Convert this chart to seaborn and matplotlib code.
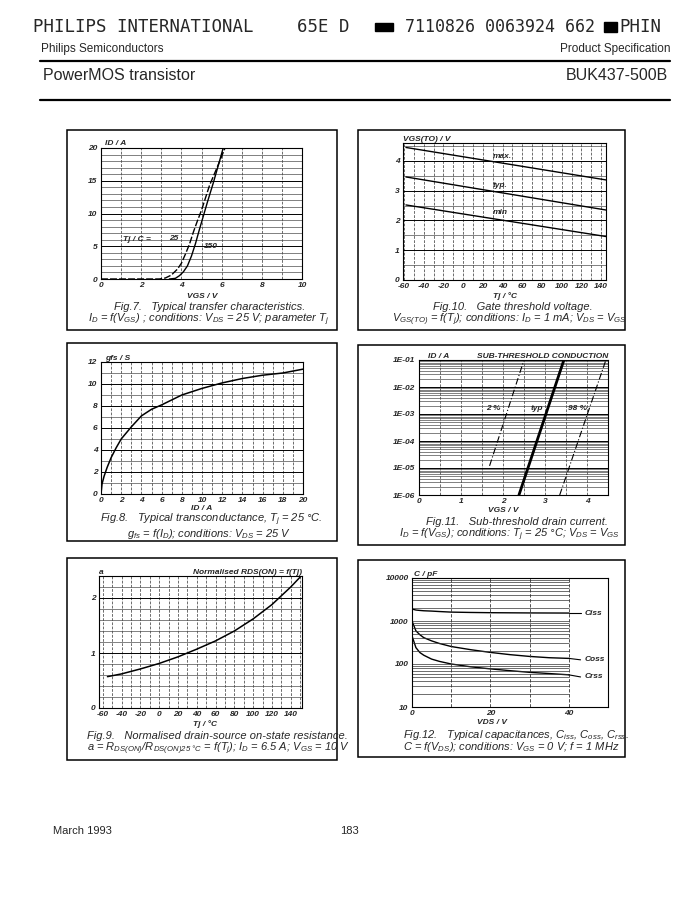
import matplotlib
matplotlib.use("Agg")
import matplotlib.pyplot as plt
from matplotlib.patches import Rectangle
from matplotlib.ticker import MultipleLocator, LogLocator, NullFormatter
import numpy as np
import pandas as pd
import seaborn as sns

# ---- data ----
# Fig.7 transfer characteristics
vgs_25 = [0.0, 2.9, 3.2, 3.5, 3.8, 4.0, 4.2, 4.4, 4.6, 4.8, 5.0, 5.4, 5.8, 6.17]
id_25 = [0.0, 0.0, 0.15, 0.6, 1.5, 2.4, 3.8, 5.3, 7.2, 8.9, 10.5, 14.3, 17.2, 20.0]
vgs_150 = [3.4, 3.7, 3.9, 4.1, 4.3, 4.5, 4.7, 4.9, 5.1, 5.3, 5.58, 5.85, 6.08]
id_150 = [0.0, 0.1, 0.5, 1.1, 2.0, 3.5, 5.4, 7.6, 9.7, 11.8, 14.6, 17.5, 20.0]

# Fig.10 gate threshold voltage
tj_thr = [-58, 145]
vth_max = [4.45, 3.36]
vth_typ = [3.46, 2.35]
vth_min = [2.52, 1.46]

# Fig.8 transconductance
id_gfs = [0, 0.1, 0.3, 0.6, 1, 1.5, 2, 3, 4, 5, 6, 8, 10, 12, 14, 16, 18, 20]
gfs = [0, 0.9, 1.6, 2.4, 3.3, 4.2, 5.0, 6.1, 7.1, 7.7, 8.1, 9.0, 9.6, 10.1, 10.5, 10.8, 11.0, 11.35]

# Fig.11 sub-threshold drain current
vgs_st_typ = [2.38, 3.45]
id_st_typ = [1e-6, 1e-1]
vgs_st_2 = [1.68, 2.5]
id_st_2 = [1.2e-5, 1e-1]
vgs_st_98 = [3.35, 4.45]
id_st_98 = [1e-6, 1e-1]

# Fig.9 normalised on-state resistance
tj_rds = [-55, -40, -20, 0, 20, 40, 60, 80, 100, 120, 140, 150]
a_rds = [0.57, 0.62, 0.71, 0.81, 0.93, 1.07, 1.22, 1.40, 1.62, 1.88, 2.2, 2.38]

# Fig.12 capacitances
vds_c = [0, 1, 2, 3, 5, 7, 10, 15, 20, 25, 30, 35, 40]
c_iss = [1900, 1800, 1760, 1730, 1700, 1660, 1610, 1580, 1560, 1550, 1540, 1535, 1530]
c_oss = [1000, 590, 480, 410, 345, 300, 255, 215, 186, 165, 150, 140, 135]
c_rss = [450, 240, 185, 160, 130, 115, 100, 86, 77, 70, 64, 60, 56]

sns.set_theme(style="white")
plt.rcParams["font.family"] = ["Liberation Sans", "DejaVu Sans"]
plt.rcParams["mathtext.fontset"] = "custom"
plt.rcParams["mathtext.rm"] = "Liberation Sans:italic"
plt.rcParams["mathtext.it"] = "Liberation Sans:italic"
plt.rcParams["mathtext.bf"] = "Liberation Sans:bold:italic"
plt.rcParams["axes.unicode_minus"] = False

W, H = 693, 906
fig = plt.figure(figsize=(W / 100, H / 100), dpi=100)
fig.patch.set_facecolor("white")


def add_ax(l, r, t, b):
    return fig.add_axes([l / W, 1 - b / H, (r - l) / W, (b - t) / H])


def ftext(x, y, s, **kw):
    kw.setdefault("va", "center")
    fig.text(x / W, 1 - y / H, s, **kw)


def box(l, r, t, b):
    fig.add_artist(Rectangle((l / W, 1 - b / H), (r - l) / W, (b - t) / H,
                             transform=fig.transFigure, fill=False,
                             lw=1.1, ec="black"))


def style(ax, xmaj, xmin, ymaj, ymin, logy=False):
    if logy:
        ax.set_yscale("log")
        ax.yaxis.set_minor_locator(LogLocator(base=10, subs=np.arange(2, 10)))
        ax.yaxis.set_minor_formatter(NullFormatter())
    else:
        ax.yaxis.set_major_locator(MultipleLocator(ymaj))
        ax.yaxis.set_minor_locator(MultipleLocator(ymin))
    ax.xaxis.set_major_locator(MultipleLocator(xmaj))
    ax.xaxis.set_minor_locator(MultipleLocator(xmin))
    ax.grid(axis="y", which="major", color="black", lw=0.7)
    ax.grid(axis="y", which="minor", color="0.3", lw=0.5)
    ax.grid(axis="x", which="both", color="0.2", lw=0.5, ls=(0, (4, 2)))
    ax.tick_params(length=0, pad=2.5, labelsize=6)
    for lab in ax.get_xticklabels() + ax.get_yticklabels():
        lab.set_fontweight("bold")
        lab.set_fontstyle("italic")
    for sp in ax.spines.values():
        sp.set_color("black")
        sp.set_linewidth(0.8)
    ax.set_xlabel("")
    ax.set_ylabel("")
    ax.set_facecolor("white")


small = dict(fontsize=6, fontweight="bold", fontstyle="italic")
cap = dict(fontsize=8, fontstyle="italic", ha="center")
mono = dict(fontsize=12.5, family="DejaVu Sans Mono")

# ---- header ----
ftext(33, 27, "PHILIPS INTERNATIONAL", **mono)
ftext(297, 27, "65E D", **mono)
fig.add_artist(Rectangle((375 / W, 1 - 31 / H), 18 / W, 8 / H, transform=fig.transFigure,
                         color="black"))
ftext(405, 27, "7110826 0063924 662", fontsize=12, family="DejaVu Sans Mono")
fig.add_artist(Rectangle((604 / W, 1 - 32 / H), 13 / W, 10 / H, transform=fig.transFigure,
                         color="black"))
ftext(619, 27, "PHIN", **mono)
ftext(41, 49, "Philips Semiconductors", fontsize=8.5)
ftext(670, 49, "Product Specification", fontsize=8.5, ha="right")
fig.add_artist(plt.Line2D([40 / W, 670 / W], [1 - 61 / H] * 2, color="black", lw=1.6))
ftext(43, 75, "PowerMOS transistor", fontsize=11.5)
ftext(668, 75, "BUK437-500B", fontsize=11.5, ha="right")
fig.add_artist(plt.Line2D([40 / W, 670 / W], [1 - 100 / H] * 2, color="black", lw=1.6))

# ---- footer ----
ftext(53, 831, "March 1993", fontsize=8)
ftext(340, 831, "183", fontsize=8)

# ---- Fig.7 ----
box(67, 337, 130, 330)
ax = add_ax(101, 302, 148, 279)
sns.lineplot(x=vgs_25, y=id_25, ax=ax, color="black", lw=1.0, ls=(0, (5, 1.5)))
sns.lineplot(x=vgs_150, y=id_150, ax=ax, color="black", lw=1.0)
ax.set_xlim(0, 10)
ax.set_ylim(0, 20)
style(ax, 2, 1, 5, 1)
ax.text(0.02, 1.01, "ID / A", transform=ax.transAxes, va="bottom", **small)
ax.text(1.1, 6.1, "Tj / C =", va="center", **small)
ax.text(3.4, 6.2, "25", va="center", **small)
ax.text(5.1, 4.9, "150", va="center", **small)
ftext(202, 296, "VGS / V", ha="center", **small)
ftext(210, 307, "Fig.7.   Typical transfer characteristics.", **cap)
ftext(209, 319.5, r"$I_D$ = f($V_{GS}$) ; conditions: $V_{DS}$ = 25 V; parameter $T_j$", **cap)

# ---- Fig.10 ----
box(358, 625, 130, 330)
ax = add_ax(403, 606, 143, 280)
for v, lab, ly in [(vth_max, "max.", 4.15), (vth_typ, "typ.", 3.16), (vth_min, "min", 2.27)]:
    sns.lineplot(x=tj_thr, y=v, ax=ax, color="black", lw=1.0)
    ax.text(30, ly, lab, va="center", **small)
ax.set_xlim(-61, 145)
ax.set_ylim(0, 4.6)
style(ax, 20, 10, 1, 0.5)
ax.text(0.0, 1.0, "VGS(TO) / V", transform=ax.transAxes, va="bottom", **small)
ftext(505, 296, "Tj / °C", ha="center", **small)
ftext(513, 307, "Fig.10.   Gate threshold voltage.", **cap)
ftext(510, 319.5, r"$V_{GS(TO)}$ = f($T_j$); conditions: $I_D$ = 1 mA; $V_{DS}$ = $V_{GS}$", **cap)

# ---- Fig.8 ----
box(67, 337, 343, 541)
ax = add_ax(101, 303, 362, 494)
sns.lineplot(x=id_gfs, y=gfs, ax=ax, color="black", lw=1.1)
ax.set_xlim(0, 20)
ax.set_ylim(0, 12)
style(ax, 2, 1, 2, 1)
ax.text(0.02, 1.0, "gfs / S", transform=ax.transAxes, va="bottom", **small)
ftext(202, 508.5, "ID / A", ha="center", **small)
ftext(211, 520, "Fig.8.   Typical transconductance, $T_j$ = 25 °C.", **cap)
ftext(209, 534, r"$g_{fs}$ = f($I_D$); conditions: $V_{DS}$ = 25 V", **cap)

# ---- Fig.11 ----
box(358, 625, 345, 545)
ax = add_ax(419, 608, 360, 495)
sns.lineplot(x=vgs_st_typ, y=id_st_typ, ax=ax, color="black", lw=2.0)
sns.lineplot(x=vgs_st_2, y=id_st_2, ax=ax, color="black", lw=0.8, ls=(0, (6, 2, 1, 2)))
sns.lineplot(x=vgs_st_98, y=id_st_98, ax=ax, color="black", lw=0.8, ls=(0, (6, 2, 1, 2)))
ax.set_xlim(0, 4.5)
ax.set_ylim(1e-6, 1e-1)
style(ax, 1, 0.5, 1, 1, logy=True)
ax.set_yticks([1e-6, 1e-5, 1e-4, 1e-3, 1e-2, 1e-1])
ax.set_yticklabels(["1E-06", "1E-05", "1E-04", "1E-03", "1E-02", "1E-01"], **small)
ax.text(1.6, 1.6e-3, "2 %", va="center", **small)
ax.text(2.65, 1.6e-3, "typ", va="center", **small)
ax.text(3.55, 1.6e-3, "98 %", va="center", **small)
ax.text(0.05, 1.0, "ID / A", transform=ax.transAxes, va="bottom", **small)
ax.text(1.0, 1.0, "SUB-THRESHOLD CONDUCTION", transform=ax.transAxes, va="bottom",
        ha="right", **small)
ftext(503, 510, "VGS / V", ha="center", **small)
ftext(517, 522, "Fig.11.   Sub-threshold drain current.", **cap)
ftext(510, 534.5, r"$I_D$ = f($V_{GS}$); conditions: $T_j$ = 25 °C; $V_{DS}$ = $V_{GS}$", **cap)

# ---- Fig.9 ----
box(67, 337, 558, 760)
ax = add_ax(99, 302, 576, 708)
sns.lineplot(x=tj_rds, y=a_rds, ax=ax, color="black", lw=1.1)
ax.set_xlim(-64, 152)
ax.set_ylim(0, 2.4)
style(ax, 20, 10, 1, 0.2)
ax.text(0.0, 1.0, "a", transform=ax.transAxes, va="bottom", **small)
ax.text(1.0, 1.0, "Normalised RDS(ON) = f(Tj)", transform=ax.transAxes, va="bottom",
        ha="right", **small)
ftext(205, 724, "Tj / °C", ha="center", **small)
ftext(217, 736, "Fig.9.   Normalised drain-source on-state resistance.", **cap)
ftext(218, 748.5, r"a = $R_{DS(ON)}$/$R_{DS(ON)25\ °C}$ = f($T_j$); $I_D$ = 6.5 A; $V_{GS}$ = 10 V",
      **cap)

# ---- Fig.12 ----
box(358, 625, 560, 757)
ax = add_ax(412, 608, 578, 707)
caps = pd.DataFrame({"VDS": vds_c * 3, "C": c_iss + c_oss + c_rss,
                     "kind": ["Ciss"] * 13 + ["Coss"] * 13 + ["Crss"] * 13})
sns.lineplot(data=caps, x="VDS", y="C", units="kind", estimator=None, ax=ax,
             color="black", lw=1.0)
ax.set_yscale("log")
ax.set_xlim(0, 50)
ax.set_ylim(10, 10000)
ax.yaxis.set_minor_locator(LogLocator(base=10, subs=np.arange(2, 10)))
ax.yaxis.set_minor_formatter(NullFormatter())
ax.set_xticks([0, 20, 40])
ax.set_yticks([10, 100, 1000, 10000])
ax.set_yticklabels(["10", "100", "1000", "10000"])
yt = [m * 10.0 ** e for e in range(1, 4) for m in range(1, 10)] + [10000]
ax.hlines(yt, 0, 40, color="0.2", lw=0.5)
for xv in [10, 20, 30, 40]:
    ax.axvline(xv, color="0.2", lw=0.6, ls=(0, (4, 2)))
ax.tick_params(length=0, pad=2.5, labelsize=6)
for lab in ax.get_xticklabels() + ax.get_yticklabels():
    lab.set_fontweight("bold")
    lab.set_fontstyle("italic")
ax.set_xlabel("")
ax.set_ylabel("")
for sp in ax.spines.values():
    sp.set_color("black")
    sp.set_linewidth(0.8)
for name, vals, ly in [("Ciss", c_iss, 1530), ("Coss", c_oss, 125), ("Crss", c_rss, 50)]:
    ax.plot([40, 43], [vals[-1], ly], color="black", lw=0.8)
    ax.text(44, ly, name, va="center", **small)
ax.text(0.01, 1.0, "C / pF", transform=ax.transAxes, va="bottom", **small)
ftext(492, 723, "VDS / V", ha="center", **small)
ftext(516, 735, r"Fig.12.   Typical capacitances, $C_{iss}$, $C_{oss}$, $C_{rss}$.", **cap)
ftext(511, 747.5, r"C = f($V_{DS}$); conditions: $V_{GS}$ = 0 V; f = 1 MHz", **cap)

fig.savefig("out.png", dpi=100, facecolor="white")
